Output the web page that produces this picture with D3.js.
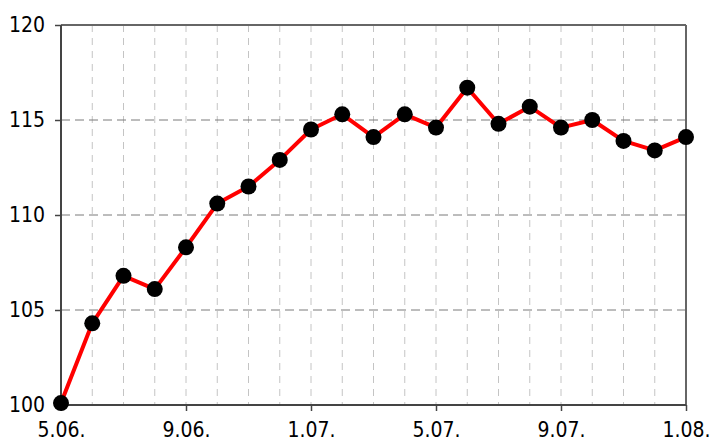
<!DOCTYPE html>
<html><head><meta charset="utf-8">
<script src="https://cdn.jsdelivr.net/npm/d3@7"></script>
<style>
body{margin:0;background:#fff;}
text{font-family:'DejaVu Sans Condensed','DejaVu Sans',sans-serif;font-stretch:condensed;font-size:21px;fill:#000;}
</style></head>
<body><svg id="c" width="712" height="444"></svg>
<script>
const categories = ["5.06.","6.06.","7.06.","8.06.","9.06.","10.06.","11.06.","12.06.","1.07.","2.07.","3.07.","4.07.","5.07.","6.07.","7.07.","8.07.","9.07.","10.07.","11.07.","12.07.","1.08."];
const values = [100.1,104.3,106.8,106.1,108.3,110.6,111.5,112.9,114.5,115.3,114.1,115.3,114.6,116.7,114.8,115.7,114.6,115.0,113.9,113.4,114.1];
const tickLabels = ["5.06.","9.06.","1.07.","5.07.","9.07.","1.08."];
const yTicks = [100,105,110,115,120];

const W=712,H=444,m={l:61,t:25,r:26,b:39};
const svg=d3.select("#c");
const x=d3.scalePoint().domain(categories).range([m.l,W-m.r]);
const y=d3.scaleLinear().domain([100,120]).range([H-m.b,m.t]);

// vertical gridlines
svg.append("g").selectAll("line").data(categories.slice(1,-1)).join("line")
  .attr("x1",d=>x(d)).attr("x2",d=>x(d)).attr("y1",m.t).attr("y2",H-m.b)
  .attr("stroke","#c4c4c4").attr("stroke-width",1).attr("stroke-dasharray","7,6");
// horizontal gridlines
svg.append("g").selectAll("line").data(yTicks.slice(1,-1)).join("line")
  .attr("x1",m.l).attr("x2",W-m.r).attr("y1",d=>y(d)).attr("y2",d=>y(d))
  .attr("stroke","#7a7a7a").attr("stroke-width",1).attr("stroke-dasharray","9,5");

// frame top/right
svg.append("line").attr("x1",m.l).attr("x2",W-m.r).attr("y1",m.t).attr("y2",m.t).attr("stroke","#666").attr("stroke-width",2);
svg.append("line").attr("x1",W-m.r).attr("x2",W-m.r).attr("y1",m.t).attr("y2",H-m.b).attr("stroke","#666").attr("stroke-width",2);

// axes
const yAxis=svg.append("g").attr("transform",`translate(${m.l},0)`)
  .call(d3.axisLeft(y).tickValues(yTicks).tickSize(6).tickPadding(10));
const xAxis=svg.append("g").attr("transform",`translate(0,${H-m.b})`)
  .call(d3.axisBottom(x).tickValues(tickLabels).tickSize(6).tickPadding(11));
[yAxis,xAxis].forEach(g=>{
  g.select(".domain").attr("stroke","#444").attr("stroke-width",2);
  g.selectAll(".tick line").attr("stroke","#444").attr("stroke-width",1.5);
  g.selectAll("text").attr("font-size",null).attr("font-family",null).style("font-size","21px").attr("fill","#000");
});
xAxis.select(".domain").attr("d",`M${m.l},0H${W-m.r}`);
yAxis.select(".domain").attr("d",`M0,${m.t}V${H-m.b}`);

// line
svg.append("path").datum(values)
  .attr("d",d3.line().x((d,i)=>x(categories[i])).y(d=>y(d)))
  .attr("fill","none").attr("stroke","#ff0000").attr("stroke-width",4).attr("stroke-linejoin","round");
// markers
svg.append("g").selectAll("circle").data(values).join("circle")
  .attr("cx",(d,i)=>x(categories[i])).attr("cy",d=>y(d)).attr("r",8).attr("fill","#000");
</script></body></html>
